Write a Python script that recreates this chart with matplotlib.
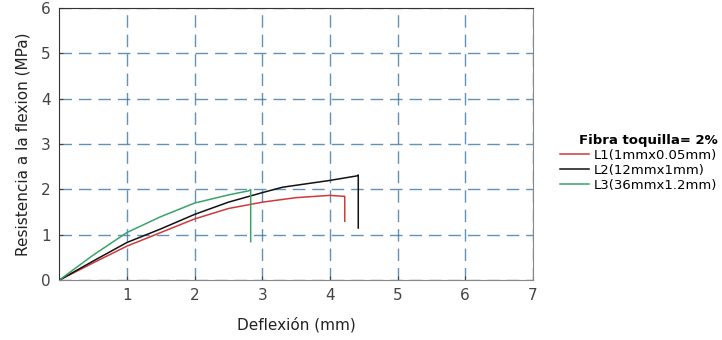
import matplotlib.pyplot as plt

# valores
l1_x = [0, 0.5, 1.0, 1.5, 2.0, 2.5, 3.0, 3.5, 4.0, 4.2, 4.22, 4.22]
l1_y = [0, 0.38, 0.75, 1.05, 1.35, 1.58, 1.72, 1.82, 1.87, 1.85, 1.85, 1.3]
l2_x = [0, 0.5, 1.0, 1.5, 2.0, 2.5, 3.0, 3.3, 4.0, 4.4, 4.42, 4.42]
l2_y = [0, 0.42, 0.83, 1.13, 1.45, 1.72, 1.93, 2.05, 2.2, 2.3, 2.32, 1.15]
l3_x = [0, 0.5, 1.0, 1.5, 2.0, 2.5, 2.8, 2.83, 2.83]
l3_y = [0, 0.55, 1.05, 1.4, 1.7, 1.88, 1.97, 2.0, 0.85]

labels = ['L1(1mmx0.05mm)', 'L2(12mmx1mm)', 'L3(36mmx1.2mm)']
colors = ['#d0393b', '#111111', '#3aa36a']

fig = plt.figure(figsize=(7.22, 3.4), dpi=100)
ax = fig.add_axes([0.082, 0.176, 0.656, 0.8])

ax.plot(l1_x, l1_y, color=colors[0], lw=1.1, label=labels[0])
ax.plot(l2_x, l2_y, color=colors[1], lw=1.1, label=labels[1])
ax.plot(l3_x, l3_y, color=colors[2], lw=1.1, label=labels[2])

ax.set_xlim(0, 7)
ax.set_ylim(0, 6)
ax.set_xticks([1, 2, 3, 4, 5, 6, 7])
ax.set_yticks([0, 1, 2, 3, 4, 5, 6])
ax.grid(True, color='#3a78a8', ls=(0, (9, 5)), lw=1.0, alpha=0.8)
ax.tick_params(direction='in', length=3, labelsize=11, colors='#444444', pad=6)

ax.spines['top'].set_color('#333333')
ax.spines['left'].set_color('#333333')
ax.spines['bottom'].set_color('#888888')
ax.spines['right'].set_color('#888888')

ax.set_xlabel('Deflexión (mm)', fontsize=11, color='#222222', labelpad=10)
ax.set_ylabel('Resistencia a la flexion (MPa)', fontsize=11, color='#222222', labelpad=8)

leg = fig.legend(loc='upper left', bbox_to_anchor=(0.766, 0.625), frameon=False,
                 title='Fibra toquilla= 2%', fontsize=9.5, handlelength=2.2,
                 handletextpad=0.4, labelspacing=0.15, borderpad=0)
leg.get_title().set_fontweight('bold')
leg.get_title().set_fontsize(9.5)
leg._legend_box.align = 'right'

plt.savefig('out.png')
